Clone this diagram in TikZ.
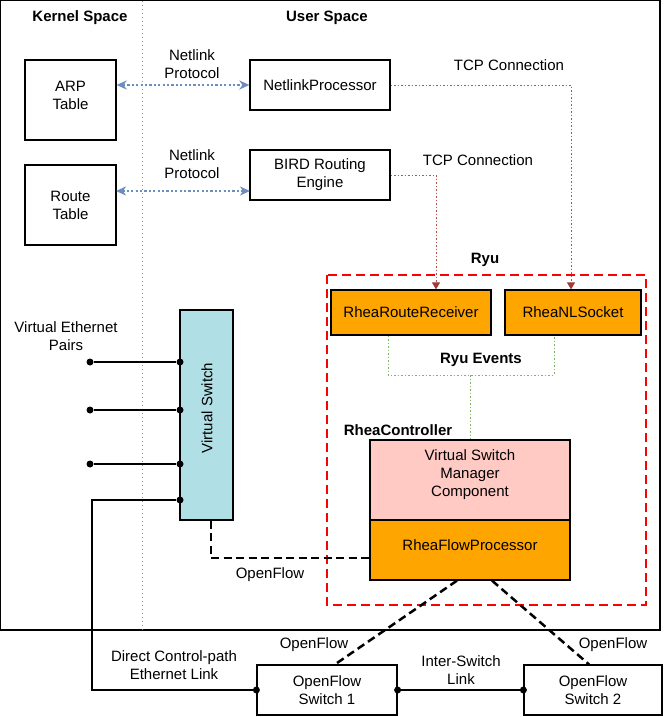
\documentclass[tikz,border=0pt]{standalone}
\usepackage{fontspec}
\setmainfont{Liberation Sans}
\usetikzlibrary{arrows.meta}
\definecolor{nlblue}{HTML}{6C8EBF}
\definecolor{tcpred}{HTML}{B85450}
\definecolor{tcptip}{HTML}{A33A36}
\definecolor{evgreen}{HTML}{82B366}
\definecolor{sepred}{HTML}{EA6B66}
\definecolor{rheaorange}{HTML}{FFA500}
\definecolor{vsblue}{HTML}{B0DFE5}
\definecolor{vsmpink}{HTML}{FFCAC3}
\definecolor{ryured}{HTML}{FF0000}
\begin{document}
\begin{tikzpicture}[x=1pt,y={(0pt,-1pt)},
  font=\fontsize{15}{18}\selectfont,
  box/.style={draw, line width=1.25pt, inner sep=0pt, align=center},
  lbl/.style={inner sep=0pt, align=center},
  blbl/.style={inner sep=0pt, align=center, font=\fontsize{15}{18}\selectfont\bfseries},
  dot/.style={circle, fill=black, inner sep=0pt, minimum size=7pt},
  plain/.style={line width=1.25pt},
  nlarrow/.style={nlblue, line width=2.2pt, dash pattern=on 2.2pt off 2.2pt,
    {Stealth[length=10pt,width=9pt,inset=3pt]}-{Stealth[length=10pt,width=9pt,inset=3pt]}},
  tcp/.style={tcpred, line width=1pt, dash pattern=on 1.5pt off 2pt,
    -{Triangle[length=7pt,width=8pt,color=tcptip]}},
  ev/.style={evgreen, line width=1pt, dash pattern=on 1.5pt off 2pt},
  ofl/.style={line width=2.5pt, dash pattern=on 8pt off 4.5pt},
  ryubox/.style={ryured, line width=2.5pt, dash pattern=on 9pt off 5pt}
]
\useasboundingbox (0,0) rectangle (667,717);
\fill[white] (0,0) rectangle (667,717);

% outer frame
\draw[plain] (0.7,0.7) rectangle (660,630);
% separator
\draw[sepred, line width=1pt, dash pattern=on 1.5pt off 2.5pt] (142,0.7) -- (142,630);

% titles
\node[blbl] (kst) at (80,18) {Kernel Space};
\node[blbl] (ust) at (327,18) {User Space};

% boxes
\node[box, minimum width=91pt, minimum height=80pt] (arp) at (70.5,100) {};
\node[lbl] (arpt) at (70.5,95) {ARP\\Table};
\node[box, minimum width=91pt, minimum height=80pt] (rt) at (70.5,205) {Route\\Table};
\node[box, minimum width=140pt, minimum height=50pt] (np) at (320,85) {NetlinkProcessor};
\node[box, minimum width=140pt, minimum height=50pt] (bird) at (320,175) {BIRD Routing\\Engine};

% netlink arrows
\node[lbl] (nl1) at (192,64) {Netlink\\Protocol};
\node[lbl] (nl2) at (192,164) {Netlink\\Protocol};
\draw[nlarrow] (arp.east |- np.west) -- (np.west);
\coordinate (rtar) at (116,191);
\coordinate (bdar) at (250,191);
\draw[nlarrow] (rtar) -- (bdar);

% Ryu container
\draw[ryubox] (327,275) rectangle (646,605);
\node[blbl] (ryu) at (485,260) {Ryu};

\node[box, fill=rheaorange, minimum width=160pt, minimum height=45pt] (rrr) at (411,312.5) {RheaRouteReceiver};
\node[box, fill=rheaorange, minimum width=136pt, minimum height=45pt] (rnl) at (573,312.5) {RheaNLSocket};

% TCP connections
\node[lbl] (tcp1) at (509,65) {TCP Connection};
\node[lbl] (tcp2) at (478,160) {TCP Connection};
\draw[tcp] (np.east) -| ([xshift=-2pt]rnl.north);
\draw[tcp] (bird.east) -| ([xshift=25pt]rrr.north);

% Ryu events
\node[blbl] (rev) at (481,360) {Ryu Events};
\coordinate (evj) at (470,375);
\node[blbl] (rc) at (398,430) {RheaController};
\node[box, fill=vsmpink, minimum width=200pt, minimum height=80pt] (vsm) at (470,480) {};
\node[lbl] (vsmt) at (470,475) {Virtual Switch\\Manager\\Component};
\node[box, fill=rheaorange, minimum width=200pt, minimum height=60pt] (rfp) at (470,550) {};
\node[lbl] (rfpt) at (470,545.5) {RheaFlowProcessor};
\draw[ev] ([xshift=-23pt]rrr.south) |- (evj) -| ([xshift=-19pt]rnl.south);
\draw[ev] (evj) -- (vsm.north);

% virtual switch
\node[box, fill=vsblue, minimum width=53pt, minimum height=210pt] (vs) at (206.5,415) {};
\node[lbl, rotate=90] (vst) at (207,408) {Virtual Switch};
\node[lbl] (vep) at (66,336) {Virtual Ethernet\\Pairs};

\node[dot] (l1) at (90,362) {};
\node[dot] (r1) at (180,362) {};
\node[dot] (l2) at (90,410) {};
\node[dot] (r2) at (180,410) {};
\node[dot] (l3) at (90,464) {};
\node[dot] (r3) at (180,464) {};
\node[dot] (r4) at (180,500) {};
\draw[plain] (l1) -- (r1);
\draw[plain] (l2) -- (r2);
\draw[plain] (l3) -- (r3);

% OpenFlow switches
\node[box, minimum width=140pt, minimum height=50pt] (ofs1) at (327,690) {OpenFlow\\Switch 1};
\node[box, minimum width=138pt, minimum height=50pt] (ofs2) at (593,690) {OpenFlow\\Switch 2};
\node[dot] (d1) at (ofs1.west) {};
\node[dot] (d2) at (ofs1.east) {};
\node[dot] (d3) at (ofs2.west) {};
\draw[plain] (d2) -- (d3);
\node[lbl] (isl) at (461,670.5) {Inter-Switch\\Link};

% direct control path
\coordinate (dcc) at (92,500);
\draw[plain] (r4) -- (dcc) |- (d1);
\node[lbl] (dcl) at (174,665.5) {Direct Control-path\\Ethernet Link};

% OpenFlow links
\coordinate (ofj) at (211,558);
\draw[ofl] ([xshift=4.5pt]vs.south) -- (ofj) -- (rfp.west |- ofj);
\node[lbl] (of0) at (270,575) {OpenFlow};
\draw[ofl] ([xshift=-13pt]rfp.south) -- ([xshift=8pt]ofs1.north);
\draw[ofl] ([xshift=22pt]rfp.south) -- ([xshift=-4pt]ofs2.north);
\node[lbl] (of1) at (314,645) {OpenFlow};
\node[lbl] (of2) at (613,645) {OpenFlow};
\end{tikzpicture}
\end{document}
